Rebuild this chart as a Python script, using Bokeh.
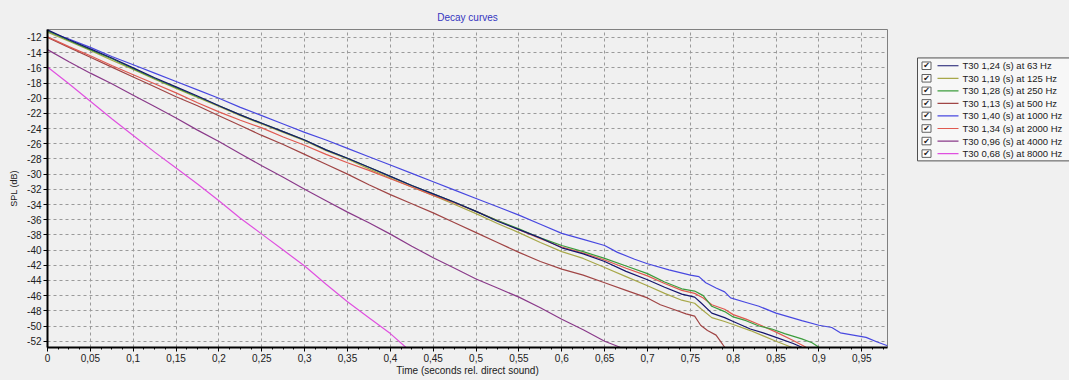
from bokeh.plotting import figure
from bokeh.layouts import row
from bokeh.models import Range1d, FixedTicker, Title
from bokeh.core.properties import value
from bokeh.embed import file_html
from bokeh.resources import INLINE

# ---------------- data ----------------
labels = ["T30 1,24 (s) at 63 Hz", "T30 1,19 (s) at 125 Hz", "T30 1,28 (s) at 250 Hz",
          "T30 1,13 (s) at 500 Hz", "T30 1,40 (s) at 1000 Hz", "T30 1,34 (s) at 2000 Hz",
          "T30 0,96 (s) at 4000 Hz", "T30 0,68 (s) at 8000 Hz"]
colors = ["#16166e", "#a8a84a", "#3c9c3c", "#a04545", "#4848e0", "#e05a50", "#8a3a8a", "#e050e0"]

t_63 = [0, .025, .05, .075, .1, .125, .15, .175, .2, .225, .25, .275, .3, .325, .35, .375, .4, .425, .45, .475, .5,
        .525, .55, .575, .6, .625, .65, .675, .7, .72, .74, .755, .762, .775, .79, .8, .82, .835, .85, .87, .88]
db_63 = [-11.0, -12.3, -13.5, -14.7, -16.0, -17.3, -18.5, -19.7, -21.0, -22.2, -23.3, -24.4, -25.5, -26.8, -27.9,
         -29.1, -30.3, -31.5, -32.6, -33.7, -34.9, -36.2, -37.3, -38.4, -39.7, -40.5, -41.5, -42.8, -43.9, -44.9,
         -45.8, -46.2, -46.9, -48.3, -48.9, -49.4, -50.4, -50.9, -51.5, -52.3, -52.8]

t_125 = [0, .025, .05, .075, .1, .125, .15, .175, .2, .225, .25, .275, .3, .325, .35, .375, .4, .425, .45, .475, .5,
         .525, .55, .575, .6, .625, .65, .675, .7, .72, .74, .755, .762, .775, .79, .8, .82, .835, .85, .868]
db_125 = [-11.3, -12.5, -13.7, -15.0, -16.2, -17.5, -18.7, -19.9, -21.1, -22.3, -23.4, -24.5, -25.6, -26.9, -28.0,
          -29.3, -30.5, -31.7, -32.8, -34.0, -35.2, -36.5, -37.7, -39.0, -40.2, -41.1, -42.3, -43.5, -44.7, -45.7,
          -46.6, -47.0, -47.7, -48.9, -49.4, -49.8, -50.6, -51.3, -52.0, -52.8]

t_250 = [0, .025, .05, .075, .1, .125, .15, .175, .2, .225, .25, .275, .3, .325, .35, .375, .4, .425, .45, .475, .5,
         .525, .55, .575, .6, .625, .65, .675, .7, .72, .74, .755, .765, .775, .79, .8, .815, .83, .845, .86, .88,
         .892, .9]
db_250 = [-11.1, -12.4, -13.6, -14.8, -16.1, -17.4, -18.6, -19.8, -21.0, -22.2, -23.3, -24.4, -25.5, -26.8, -27.9,
          -29.1, -30.3, -31.5, -32.6, -33.7, -34.9, -36.1, -37.2, -38.4, -39.4, -40.2, -41.1, -42.1, -43.1, -44.2,
          -45.1, -45.4, -46.0, -47.4, -48.1, -48.8, -49.3, -50.0, -50.4, -51.0, -51.7, -52.2, -52.8]

t_500 = [0, .025, .05, .075, .1, .125, .15, .175, .2, .225, .25, .275, .3, .325, .35, .375, .4, .425, .45, .475, .5,
         .525, .55, .575, .6, .625, .65, .675, .7, .715, .73, .745, .755, .762, .77, .78, .785, .79]
db_500 = [-12.0, -13.3, -14.6, -15.9, -17.2, -18.5, -19.8, -21.0, -22.3, -23.6, -24.9, -26.1, -27.4, -28.7, -30.0,
          -31.4, -32.7, -33.9, -35.1, -36.4, -37.7, -39.0, -40.3, -41.5, -42.5, -43.3, -44.3, -45.3, -46.3, -47.2,
          -47.8, -48.4, -48.7, -49.9, -50.6, -51.2, -52.0, -52.8]

t_1000 = [0, .025, .05, .075, .1, .125, .15, .175, .2, .225, .25, .275, .3, .325, .35, .375, .4, .425, .45, .475, .5,
          .525, .55, .575, .6, .625, .65, .665, .685, .7, .725, .75, .76, .768, .78, .79, .797, .815, .83, .85, .865,
          .88, .9, .915, .925, .94, .955, .968, .98]
db_1000 = [-11.2, -12.2, -13.3, -14.5, -15.6, -16.7, -17.8, -18.9, -20.0, -21.2, -22.3, -23.4, -24.5, -25.5, -26.6,
           -27.7, -28.8, -29.9, -31.0, -32.1, -33.2, -34.3, -35.4, -36.6, -37.8, -38.6, -39.4, -40.3, -41.2, -41.8,
           -42.6, -43.3, -43.5, -44.3, -45.0, -45.5, -46.3, -46.9, -47.4, -48.3, -48.8, -49.3, -49.9, -50.2, -50.9,
           -51.2, -51.5, -52.1, -52.6]

t_2000 = [0, .025, .05, .075, .1, .125, .15, .175, .2, .225, .25, .275, .3, .325, .35, .375, .4, .425, .45, .475, .5,
          .525, .55, .575, .6, .625, .65, .675, .7, .72, .74, .755, .765, .775, .79, .8, .815, .83, .85, .87, .885]
db_2000 = [-11.9, -13.2, -14.4, -15.7, -16.9, -18.1, -19.3, -20.6, -21.8, -22.9, -23.9, -25.1, -26.2, -27.4, -28.5,
           -29.5, -30.6, -31.7, -32.8, -33.8, -34.9, -36.1, -37.3, -38.5, -39.6, -40.4, -41.3, -42.4, -43.4, -44.4,
           -45.3, -45.7, -46.3, -47.2, -47.8, -48.5, -49.1, -49.8, -50.8, -51.9, -52.8]

t_4000 = [0, .025, .05, .075, .1, .125, .15, .175, .2, .225, .25, .275, .3, .325, .35, .375, .4, .425, .45, .475, .5,
          .525, .55, .575, .6, .625, .65, .668]
db_4000 = [-13.6, -15.2, -16.7, -18.1, -19.6, -21.1, -22.6, -24.2, -25.7, -27.3, -28.9, -30.4, -32.0, -33.5, -35.0,
           -36.4, -37.9, -39.5, -41.0, -42.4, -43.8, -45.0, -46.2, -47.6, -49.1, -50.5, -52.0, -52.8]

t_8000 = [0, .025, .05, .075, .1, .125, .15, .175, .2, .225, .25, .275, .3, .325, .35, .375, .4, .418]
db_8000 = [-15.9, -18.1, -20.4, -22.7, -24.9, -27.1, -29.2, -31.3, -33.5, -35.8, -37.9, -40.0, -42.1, -44.5, -46.8,
           -48.9, -51.0, -52.8]

x_ticks = [round(i * 0.05, 2) for i in range(20)]
x_tick_labels = ["0"] + [("%g" % v).replace(".", ",") for v in x_ticks[1:]]
y_ticks = list(range(-52, -10, 2))
y_tick_labels = [str(v) for v in y_ticks]

series = [(t_63, db_63), (t_125, db_125), (t_250, db_250), (t_500, db_500),
          (t_1000, db_1000), (t_2000, db_2000), (t_4000, db_4000), (t_8000, db_8000)]

BG = "#f0f0f0"
FONT = "Liberation Sans"

# ---------------- main plot ----------------
p = figure(width=913, height=380, output_backend="svg", toolbar_location=None,
           x_range=Range1d(0, 0.98), y_range=Range1d(-52.83, -10.95),
           min_border_left=47, min_border_right=26, min_border_top=29, min_border_bottom=33)
p.background_fill_color = BG
p.border_fill_color = BG
p.outline_line_color = "#808080"
p.outline_line_width = 1

p.title = Title(text="Decay curves", align="center", text_color="#3535c0",
                text_font=FONT, text_font_size="10px", text_font_style="normal",
                vertical_align="top")
p.title.standoff = 10

p.xaxis.ticker = FixedTicker(ticks=x_ticks, minor_ticks=[round(i * 0.0125, 4) for i in range(80)])
p.xaxis.major_label_overrides = {v: s for v, s in zip(x_ticks, x_tick_labels)}
p.yaxis.ticker = FixedTicker(ticks=y_ticks, minor_ticks=[])
p.yaxis.major_label_overrides = {v: s for v, s in zip(y_ticks, y_tick_labels)}

for ax in (p.xaxis, p.yaxis):
    ax.axis_line_color = "black"
    ax.axis_line_width = 2
    ax.major_tick_line_color = "black"
    ax.minor_tick_line_color = "black"
    ax.major_tick_in = 0
    ax.major_tick_out = 4
    ax.minor_tick_in = 0
    ax.minor_tick_out = 2
    ax.major_label_text_font = FONT
    ax.major_label_text_font_size = "10px"
    ax.major_label_text_color = "#202020"
    ax.axis_label_text_font = FONT
    ax.axis_label_text_font_style = "normal"
    ax.axis_label_text_color = "#202020"
    ax.major_label_standoff = 2

p.xaxis.axis_label = "Time (seconds rel. direct sound)"
p.xaxis.axis_label_text_font_size = "10px"
p.xaxis.axis_label_standoff = 0
p.yaxis.axis_label = "SPL (dB)"
p.yaxis.axis_label_text_font_size = "9px"
p.yaxis.axis_label_standoff = 5

p.grid.grid_line_color = "#9a9a9a"
p.grid.grid_line_dash = "3 3"
p.grid.grid_line_width = 1

for i in [7, 6, 4, 3, 1, 5, 2, 0]:
    tx, dy = series[i]
    p.line(tx, dy, line_color=colors[i], line_width=1.2)

# ---------------- legend panel ----------------
lg = figure(width=156, height=380, output_backend="svg", toolbar_location=None,
            x_range=Range1d(0, 156), y_range=Range1d(380, 0),
            min_border=0, min_border_left=0, min_border_right=0, min_border_top=0, min_border_bottom=0)
lg.axis.visible = False
lg.grid.visible = False
lg.outline_line_color = None
lg.background_fill_color = BG
lg.border_fill_color = BG

n = len(labels)
rows_y = [43.3 + 15 * i for i in range(n)]
lg.quad(left=[4], right=[160], top=[34], bottom=[157], fill_color="#f7f7f7", line_color="#505050", line_width=1)
lg.rect(x=[13] * n, y=rows_y, width=9, height=9, fill_color="white", line_color="#606060", line_width=1)
lg.text(x=[13] * n, y=rows_y, text=["\u2714"] * n, text_align="center", text_baseline="middle",
        text_font=value("DejaVu Sans"), text_font_size="8px", text_color="#202020")
lg.segment(x0=[24] * n, y0=rows_y, x1=[45] * n, y1=rows_y, line_color=colors, line_width=1.2)
lg.text(x=[49] * n, y=rows_y, text=labels, text_baseline="middle",
        text_font=value(FONT), text_font_size="9.5px", text_color="#202020")

layout = row(p, lg, spacing=0)
layout.styles = {"background-color": BG}
open("out.html", "w").write(file_html(layout, INLINE))
